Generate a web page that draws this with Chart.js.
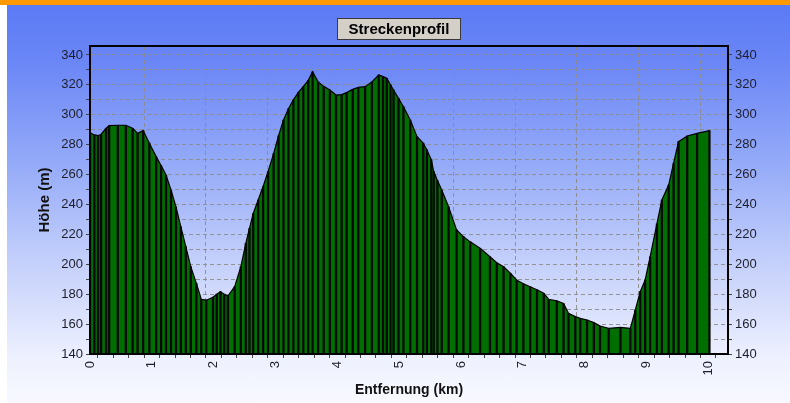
<!DOCTYPE html>
<html>
<head>
<meta charset="utf-8">
<script src="https://cdn.jsdelivr.net/npm/chart.js@4"></script>
<style>
html,body{margin:0;padding:0;background:#fff;overflow:hidden;}
#wrap{position:relative;width:790px;height:403px;overflow:hidden;
  background:linear-gradient(to bottom,#5a79f5 0px,#6a86f6 60px,#93a9f8 160px,#c3cffb 260px,#eef1fe 360px,#f8f9ff 403px);}
#topbar{position:absolute;left:0;top:0;width:790px;height:5px;background:#ff9900;}
#strip{position:absolute;left:0;top:5px;width:7px;height:398px;background:#ffffff;}
canvas{position:absolute;left:0;top:0;}
</style>
</head>
<body>
<div id="wrap">
  <canvas id="c" width="790" height="403"></canvas>
  <div id="topbar"></div>
  <div id="strip"></div>
</div>
<script>
// ---- data ----
const chartTitle = "Streckenprofil";
const xTitle = "Entfernung (km)";
const yTitle = "Höhe (m)";

const distanceKm = [
  0.00, 0.07, 0.13, 0.18, 0.26, 0.31, 0.45, 0.58, 0.69, 0.77, 0.86, 0.96,
  1.07, 1.15, 1.23, 1.31, 1.39, 1.47, 1.55, 1.63, 1.72, 1.80, 1.88, 1.99,
  2.05, 2.11, 2.17, 2.23, 2.34, 2.44, 2.52, 2.58, 2.64, 2.72, 2.80, 2.88,
  2.97, 3.05, 3.13, 3.21, 3.29, 3.37, 3.45, 3.53, 3.60, 3.69, 3.78, 3.88,
  3.98, 4.07, 4.15, 4.25, 4.34, 4.45, 4.56, 4.67, 4.74, 4.80, 4.86, 4.91,
  4.99, 5.07, 5.18, 5.29, 5.39, 5.45, 5.52, 5.56, 5.62, 5.69, 5.80, 5.93,
  6.04, 6.15, 6.31, 6.47, 6.58, 6.69, 6.80, 6.90, 7.01, 7.12, 7.23, 7.34,
  7.42, 7.55, 7.66, 7.74, 7.85, 7.93, 8.04, 8.15, 8.25, 8.39, 8.58, 8.74,
  8.82, 8.90, 8.98, 9.06, 9.17, 9.25, 9.36, 9.44, 9.52, 9.66, 9.82, 10.02
];
const heightM = [
  288, 286.5, 286, 287, 291, 292.7, 293, 293, 291, 287.6, 289.4, 281,
  272, 266, 259.7, 249.7, 238.5, 225, 211.8, 198.4, 187.3, 176.6, 176, 178,
  180, 181.7, 180, 178.8, 185, 198.4, 214, 224, 234, 243, 252, 262,
  274, 286, 296.5, 304, 310, 315, 318.8, 323, 328.8, 322, 319, 316.6,
  313.2, 313.5, 314.8, 317, 318.3, 318.8, 322, 326.6, 325.5, 324.4, 320, 316.6,
  311, 305.4, 296.5, 285.3, 281, 276.5, 270, 262, 256, 249.7, 238.5, 223,
  218.5, 215, 210.7, 205, 201, 198.4, 194, 189.5, 187, 185, 183, 180.6,
  176.6, 175.5, 173.8, 167.2, 165, 163.9, 162.7, 161, 158.7, 157.2, 157.8, 157.2,
  169.4, 181.7, 189.5, 205, 227, 243, 253, 267.6, 282, 285.8, 287.6, 289.4
];

const yTickValues = [140,150,160,170,180,190,200,210,220,230,240,250,260,270,280,290,300,310,320,330,340];
const yLabelEvery = 20;
const xMajorTicks = [0,1,2,3,4,5,6,7,8,9,10];
const xMinorPerMajor = 4;
const yMin = 140, yMax = 346;
const xMin = 0, xMax = 10.32;

// ---- build ----
const points = distanceKm.map((d, i) => ({x: d, y: heightM[i]}));
const xTickValues = [];
xMajorTicks.forEach(m => { for (let k = 0; k < xMinorPerMajor; k++) { const v = m + k / xMinorPerMajor; if (v <= xMax) xTickValues.push(v); } });

Chart.defaults.font.family = '"Liberation Sans", Arial, sans-serif';
Chart.defaults.font.size = 13;
Chart.defaults.color = '#1e1e2a';

const frameAndTitle = {
  id: 'frameAndTitle',
  afterDatasetsDraw(chart) {
    const c = chart.ctx, a = chart.chartArea;
    c.save();
    c.strokeStyle = '#000';
    c.lineWidth = 2;
    c.strokeRect(a.left, a.top, a.right - a.left, a.bottom - a.top);
    c.restore();
  },
  afterDraw(chart) {
    const c = chart.ctx;
    c.save();
    c.fillStyle = '#d4d0c8';
    c.fillRect(337.5, 18.5, 123, 21);
    c.strokeStyle = '#3a3a3a';
    c.lineWidth = 1;
    c.strokeRect(337.5, 18.5, 123, 21);
    c.font = 'bold 15px "Liberation Sans", Arial, sans-serif';
    c.fillStyle = '#000';
    c.textAlign = 'center';
    c.textBaseline = 'middle';
    c.fillText(chartTitle, 399, 29.5);
    c.restore();
  }
};

const yTickCb = v => (v % yLabelEvery === 0 ? String(v) : '');

new Chart(document.getElementById('c'), {
  type: 'line',
  data: {
    datasets: [
      {
        type: 'line', data: points, order: 2,
        borderColor: '#000', borderWidth: 1.2,
        backgroundColor: '#006e00', fill: 'start',
        pointRadius: 0, tension: 0, yAxisID: 'y'
      },
      {
        type: 'bar', data: points, order: 1,
        backgroundColor: '#050805', borderWidth: 0,
        barThickness: 1.6, yAxisID: 'y'
      }
    ]
  },
  options: {
    responsive: false,
    animation: false,
    events: [],
    layout: {padding: {top: 46, left: 0, right: 0, bottom: 0}},
    plugins: {legend: {display: false}, tooltip: {enabled: false}, title: {display: false}},
    scales: {
      x: {
        type: 'linear', position: 'bottom', min: xMin, max: xMax, offset: false,
        afterBuildTicks: s => { s.ticks = xTickValues.map(v => ({value: v})); },
        afterFit: s => { s.height = 49; },
        ticks: {
          autoSkip: false, minRotation: 90, maxRotation: 90, padding: 3,
          font: {size: 13},
          callback: v => (Number.isInteger(v) ? String(v) : '')
        },
        grid: {
          color: ctx => (ctx.tick && Number.isInteger(ctx.tick.value) ? 'rgba(140,140,140,0.9)' : 'rgba(0,0,0,0)'),
          lineWidth: 1, tickLength: 4, tickColor: '#444', tickWidth: 1
        },
        border: {display: true, color: '#000', width: 2, dash: [4, 3]},
        title: {display: true, text: xTitle, font: {size: 14, weight: 'bold'}, color: '#111', padding: {top: 4.6, bottom: 4.6}}
      },
      y: {
        type: 'linear', position: 'left', min: yMin, max: yMax,
        afterBuildTicks: s => { s.ticks = yTickValues.map(v => ({value: v})); },
        afterFit: s => { s.width = 90; },
        ticks: {autoSkip: false, padding: 3, callback: yTickCb, font: {size: 13}},
        grid: {color: 'rgba(140,140,140,0.9)', lineWidth: 1, tickLength: 4, tickColor: '#444'},
        border: {display: true, color: '#000', width: 2, dash: [4, 3]},
        title: {display: true, text: yTitle, font: {size: 15, weight: 'bold'}, color: '#111', padding: {top: 36, bottom: 36}}
      },
      y2: {
        type: 'linear', position: 'right', min: yMin, max: yMax,
        afterBuildTicks: s => { s.ticks = yTickValues.map(v => ({value: v})); },
        afterFit: s => { s.width = 62; },
        ticks: {autoSkip: false, padding: 3, callback: yTickCb, font: {size: 13}},
        grid: {drawOnChartArea: false, tickLength: 4, tickColor: '#444'},
        border: {display: true, color: '#000', width: 2}
      }
    }
  },
  plugins: [frameAndTitle]
});
</script>
</body>
</html>
